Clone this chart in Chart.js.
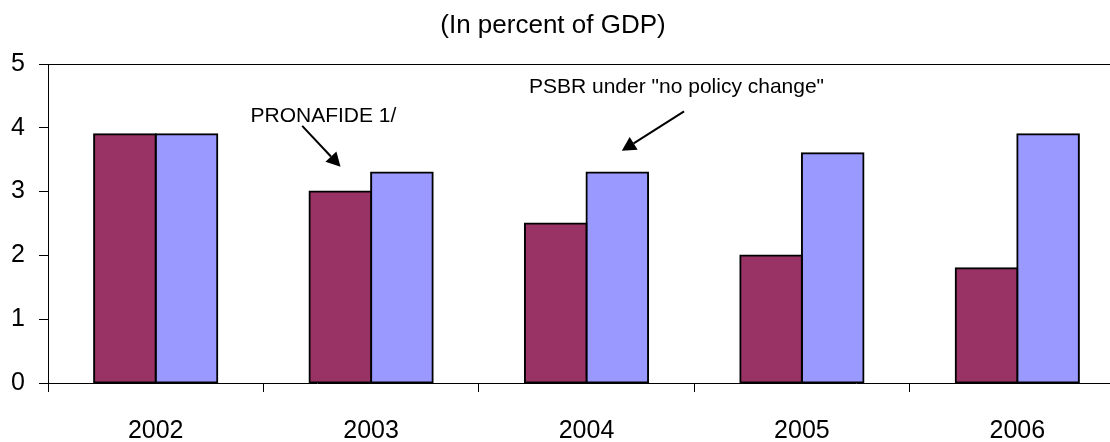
<!DOCTYPE html>
<html>
<head>
<meta charset="utf-8">
<script src="https://cdn.jsdelivr.net/npm/chart.js@4"></script>
<style>
  html, body { margin: 0; padding: 0; background: #ffffff; overflow: hidden; }
  #wrap { width: 1110px; height: 442px; overflow: hidden; position: relative; }
  #c { position: absolute; left: 0; top: 0; }
</style>
</head>
<body>
<div id="wrap"><canvas id="c" width="1125" height="442"></canvas></div>
<script>
// Fiscal path, in percent of GDP
const years = ['2002', '2003', '2004', '2005', '2006'];
const pronafide = [3.9, 3.0, 2.5, 2.0, 1.8];
const psbrNoPolicyChange = [3.9, 3.3, 3.3, 3.6, 3.9];
const yTicks = [0, 1, 2, 3, 4, 5];
const chartTitle = '(In percent of GDP)';
const calloutTexts = ['PRONAFIDE 1/', 'PSBR under "no policy change"'];

const FONT = '"Liberation Sans", Arial, Helvetica, sans-serif';

// Callouts placed in axis units: [category index, value]
const callouts = [
  { text: calloutTexts[0], at: [0.44, 4.09], from: [0.68, 4.03], to: [0.858, 3.39] },
  { text: calloutTexts[1], at: [1.733, 4.545], from: [2.453, 4.256], to: [2.164, 3.64] }
];

const decorations = {
  id: 'decorations',
  afterDraw(chart) {
    const ctx = chart.ctx;
    const xs = chart.scales.x, ys = chart.scales.y;
    ctx.save();
    // title, centred over the page
    ctx.fillStyle = '#000';
    ctx.font = '26px ' + FONT;
    ctx.textAlign = 'center';
    ctx.textBaseline = 'alphabetic';
    ctx.fillText(chartTitle, 553, 33);

    ctx.font = '21px ' + FONT;
    ctx.textAlign = 'left';
    callouts.forEach(c => {
      ctx.fillText(c.text, xs.getPixelForValue(c.at[0]), ys.getPixelForValue(c.at[1]));
      const x1 = xs.getPixelForValue(c.from[0]), y1 = ys.getPixelForValue(c.from[1]);
      const x2 = xs.getPixelForValue(c.to[0]), y2 = ys.getPixelForValue(c.to[1]);
      const ang = Math.atan2(y2 - y1, x2 - x1);
      const head = 14, half = 7.5;
      const bx = x2 - head * Math.cos(ang), by = y2 - head * Math.sin(ang);
      ctx.strokeStyle = '#000';
      ctx.lineWidth = 2;
      ctx.beginPath();
      ctx.moveTo(x1, y1);
      ctx.lineTo(bx, by);
      ctx.stroke();
      ctx.beginPath();
      ctx.moveTo(x2, y2);
      ctx.lineTo(bx + half * Math.sin(ang), by - half * Math.cos(ang));
      ctx.lineTo(bx - half * Math.sin(ang), by + half * Math.cos(ang));
      ctx.closePath();
      ctx.fillStyle = '#000';
      ctx.fill();
    });
    ctx.restore();
  }
};

new Chart(document.getElementById('c'), {
  type: 'bar',
  data: {
    labels: years,
    datasets: [
      {
        label: 'PRONAFIDE',
        data: pronafide,
        backgroundColor: '#993366',
        borderColor: '#000000',
        borderWidth: 2,
        borderSkipped: false,
        inflateAmount: 1
      },
      {
        label: 'PSBR under no policy change',
        data: psbrNoPolicyChange,
        backgroundColor: '#9999FF',
        borderColor: '#000000',
        borderWidth: 2,
        borderSkipped: false,
        inflateAmount: 1
      }
    ]
  },
  options: {
    responsive: false,
    animation: false,
    events: [],
    layout: { padding: { top: 64, left: 0, right: 0, bottom: 0 } },
    datasets: { bar: { categoryPercentage: 0.572, barPercentage: 1.0 } },
    plugins: {
      legend: { display: false },
      title: { display: false },
      tooltip: { enabled: false }
    },
    scales: {
      x: {
        offset: true,
        grid: {
          offset: true,
          drawOnChartArea: false,
          drawTicks: true,
          tickLength: 9,
          tickColor: '#000000',
          tickWidth: 1
        },
        border: { display: true, color: '#000000', width: 1 },
        ticks: {
          color: '#000000',
          font: { family: FONT, size: 25 },
          padding: 24,
          maxRotation: 0
        },
        afterFit(scale) { scale.height = 59; }
      },
      y: {
        min: yTicks[0],
        max: yTicks[yTicks.length - 1],
        afterBuildTicks(scale) { scale.ticks = yTicks.map(v => ({ value: v })); },
        grid: {
          drawOnChartArea: true,
          color: ctx => (ctx.tick && ctx.tick.value === yTicks[yTicks.length - 1]) ? '#000000' : 'rgba(0,0,0,0)',
          lineWidth: 1,
          drawTicks: true,
          tickLength: 9,
          tickColor: '#000000',
          tickWidth: 1
        },
        border: { display: true, color: '#000000', width: 1 },
        ticks: {
          color: '#000000',
          font: { family: FONT, size: 25 },
          padding: 14
        },
        afterFit(scale) { scale.width = 48; }
      }
    }
  },
  plugins: [decorations]
});
</script>
</body>
</html>
